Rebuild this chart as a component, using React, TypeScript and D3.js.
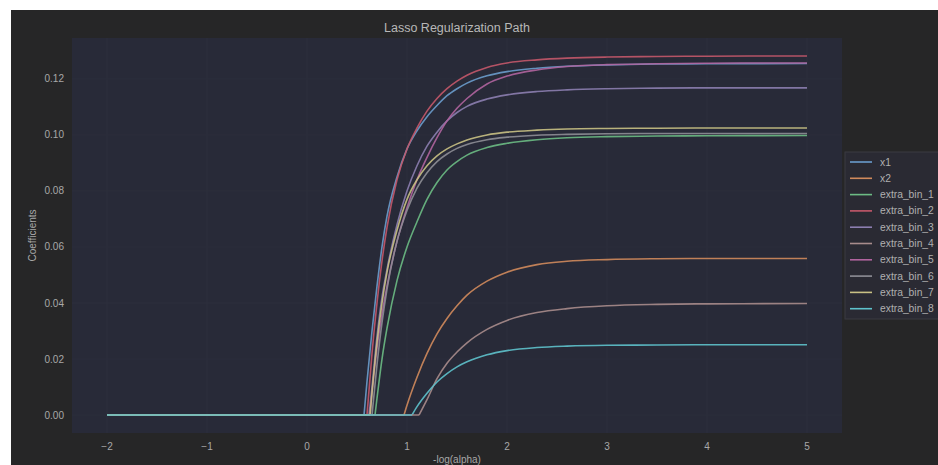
import React from "react";
import * as d3 from "d3";

const seriesNames = ["x1", "x2", "extra_bin_1", "extra_bin_2", "extra_bin_3", "extra_bin_4", "extra_bin_5", "extra_bin_6", "extra_bin_7", "extra_bin_8"];
const seriesColors = ["#6a9ccc", "#d08a5c", "#6cbb84", "#c4586a", "#8c7eb0", "#a88c8c", "#b0649e", "#8e8e96", "#c9c184", "#5ec2cc"];

// -log(alpha) at which each coefficient leaves zero
const onsets = [0.57, 0.97, 0.68, 0.6, 0.62, 1.12, 0.63, 0.65, 0.63, 1.05];

// sampled -log(alpha) grid (after onset)
const tGrid = [0.6, 0.65, 0.7, 0.75, 0.8, 0.9, 1.0, 1.1, 1.2, 1.3, 1.4, 1.5, 1.6, 1.8, 2.0, 2.3, 2.6, 3.0, 3.5, 4.0, 5.0];

const x1Vals = [0.012, 0.030, 0.046, 0.060, 0.071, 0.085, 0.095, 0.1015, 0.1065, 0.1105, 0.114, 0.1165, 0.1185, 0.1211, 0.1226, 0.1238, 0.1245, 0.125, 0.1253, 0.1254, 0.1255];
const x2Vals = [0, 0, 0, 0, 0, 0, 0.0035, 0.0135, 0.022, 0.029, 0.0345, 0.039, 0.0428, 0.0478, 0.051, 0.0537, 0.0549, 0.0555, 0.0558, 0.0559, 0.0559];
const bin1Vals = [0, 0, 0.006, 0.020, 0.031, 0.048, 0.060, 0.069, 0.077, 0.083, 0.0875, 0.0905, 0.0928, 0.0955, 0.097, 0.0983, 0.099, 0.0994, 0.0996, 0.0997, 0.0998];
const bin2Vals = [0, 0.022, 0.040, 0.055, 0.067, 0.084, 0.095, 0.1025, 0.1085, 0.113, 0.1165, 0.1192, 0.1213, 0.1241, 0.1257, 0.1268, 0.1274, 0.1278, 0.128, 0.1281, 0.1282];
const bin3Vals = [0, 0.010, 0.028, 0.042, 0.052, 0.068, 0.080, 0.089, 0.096, 0.101, 0.105, 0.108, 0.1102, 0.1128, 0.1143, 0.1155, 0.1161, 0.1165, 0.1167, 0.1168, 0.1168];
const bin4Vals = [0, 0, 0, 0, 0, 0, 0, 0, 0.0055, 0.013, 0.0185, 0.0225, 0.0258, 0.0306, 0.0338, 0.0366, 0.038, 0.039, 0.0395, 0.0397, 0.0398];
const bin5Vals = [0, 0.008, 0.024, 0.036, 0.046, 0.062, 0.074, 0.084, 0.092, 0.099, 0.105, 0.1095, 0.113, 0.1182, 0.121, 0.1232, 0.1244, 0.1251, 0.1254, 0.1256, 0.1257];
const bin6Vals = [0, 0, 0.018, 0.033, 0.045, 0.062, 0.073, 0.081, 0.0865, 0.0905, 0.0932, 0.0952, 0.0966, 0.0983, 0.0992, 0.0999, 0.1002, 0.1004, 0.1005, 0.1005, 0.1005];
const bin7Vals = [0, 0.008, 0.026, 0.040, 0.051, 0.066, 0.077, 0.084, 0.089, 0.0925, 0.095, 0.0968, 0.0982, 0.1, 0.101, 0.1017, 0.1021, 0.1023, 0.1024, 0.1025, 0.1025];
const bin8Vals = [0, 0, 0, 0, 0, 0, 0, 0.003, 0.0078, 0.0118, 0.0148, 0.0172, 0.019, 0.0215, 0.023, 0.0241, 0.0246, 0.0249, 0.025, 0.0251, 0.0251];

const seriesValues = [x1Vals, x2Vals, bin1Vals, bin2Vals, bin3Vals, bin4Vals, bin5Vals, bin6Vals, bin7Vals, bin8Vals];

const xStart = -2;
const xTicks = [-2, -1, 0, 1, 2, 3, 4, 5];
const yTicks = [0, 0.02, 0.04, 0.06, 0.08, 0.1, 0.12];

const W = 938;
const H = 465;
const FONT = "'Liberation Sans', Arial, sans-serif";

export default function App() {
  const left = 72, right = 842, top = 38, bottom = 433;
  const x = d3.scaleLinear().domain([-2.35, 5.35]).range([left, right]);
  const y = d3.scaleLinear().domain([-0.0064, 0.1346]).range([bottom, top]);

  const rise = d3.line<[number, number]>().x(d => x(d[0])).y(d => y(d[1])).curve(d3.curveMonotoneX);
  const flat = d3.line<[number, number]>().x(d => x(d[0])).y(d => y(d[1]));

  const legendX = 845, legendY = 152, rowH = 16.3;

  return (
    <svg width={W} height={H} style={{ position: "absolute", left: 0, top: 0, display: "block" }}>
      <rect x={0} y={0} width={W} height={H} fill="#ffffff" />
      <rect x={11} y={10} width={W - 11} height={H - 10} fill="#262627" />
      <rect x={left} y={top} width={right - left} height={bottom - top} fill="#282a38" />
      {xTicks.map(t => (
        <line key={"gx" + t} x1={x(t)} x2={x(t)} y1={top} y2={bottom} stroke="#2c2e3c" strokeWidth={1} />
      ))}
      {yTicks.map(t => (
        <line key={"gy" + t} x1={left} x2={right} y1={y(t)} y2={y(t)} stroke="#2c2e3c" strokeWidth={1} />
      ))}
      {seriesValues.map((vals, i) => {
        const pts: [number, number][] = [[onsets[i], 0]];
        tGrid.forEach((t, j) => { if (t > onsets[i]) pts.push([t, vals[j]]); });
        return (
          <path key={seriesNames[i]} d={rise(pts) || ""} fill="none" stroke={seriesColors[i]} strokeWidth={1.6} strokeOpacity={0.9} />
        );
      })}
      {seriesValues.map((_, i) => (
        <path key={"f" + i} d={flat([[xStart, 0], [onsets[i], 0]]) || ""} fill="none" stroke={seriesColors[i]} strokeWidth={1.6} strokeOpacity={0.9} />
      ))}
      {xTicks.map(t => (
        <text key={"tx" + t} x={x(t)} y={450} fill="#a8a8a8" fontSize={10} fontFamily={FONT} textAnchor="middle">
          {t < 0 ? "\u2212" + Math.abs(t) : String(t)}
        </text>
      ))}
      {yTicks.map(t => (
        <text key={"ty" + t} x={64} y={y(t) + 3.5} fill="#a8a8a8" fontSize={10} fontFamily={FONT} textAnchor="end">
          {t.toFixed(2)}
        </text>
      ))}
      <text x={(left + right) / 2} y={32} fill="#b8b8b8" fontSize={12.5} fontFamily={FONT} textAnchor="middle">Lasso Regularization Path</text>
      <text x={(left + right) / 2} y={463} fill="#a8a8a8" fontSize={10} fontFamily={FONT} textAnchor="middle">-log(alpha)</text>
      <text transform={`translate(36, ${(top + bottom) / 2}) rotate(-90)`} fill="#a8a8a8" fontSize={10} fontFamily={FONT} textAnchor="middle">Coefficients</text>
      <rect x={legendX} y={legendY} width={110} height={167} fill="#2a2a33" stroke="#3a3a42" strokeWidth={1} />
      {seriesNames.map((n, i) => (
        <g key={"lg" + n}>
          <line x1={850} x2={872} y1={legendY + 10 + i * rowH} y2={legendY + 10 + i * rowH} stroke={seriesColors[i]} strokeWidth={1.6} />
          <text x={880} y={legendY + 13.5 + i * rowH} fill="#b0b0b0" fontSize={10.3} fontFamily={FONT}>{n}</text>
        </g>
      ))}
    </svg>
  );
}
